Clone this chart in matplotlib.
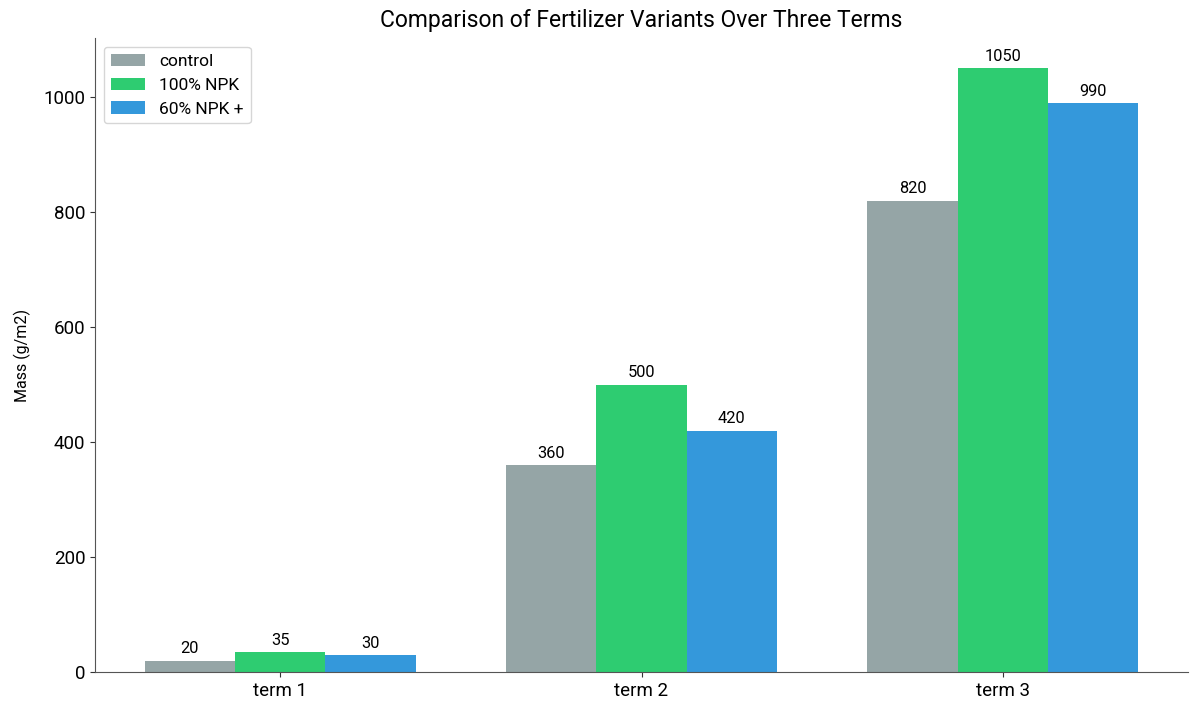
import matplotlib
matplotlib.use("Agg")
import matplotlib.pyplot as plt
import numpy as np

plt.rcParams['font.family'] = ['Roboto', 'DejaVu Sans']

terms = ["term 1", "term 2", "term 3"]
series_names = ["control", "100% NPK", "60% NPK +"]
control = [20, 360, 820]
npk100 = [35, 500, 1050]
npk60 = [30, 420, 990]
colors = ["#95a5a6", "#2ecc71", "#3498db"]

fig = plt.figure(figsize=(11.91, 7.05), dpi=100)
ax = fig.add_axes([0.0798, 0.0468, 0.9177, 0.8992])

x = np.arange(len(terms))
w = 0.25
for i, (vals, name, c) in enumerate(zip([control, npk100, npk60], series_names, colors)):
    bars = ax.bar(x + (i - 1) * w, vals, w, label=name, color=c)
    ax.bar_label(bars, padding=3, fontsize=11.8)

ax.set_xticks(x)
ax.set_xticklabels(terms)
ax.tick_params(axis='both', labelsize=13.5, colors='#333333', labelcolor='black')
ax.set_ylabel("Mass (g/m2)", fontsize=11.5, labelpad=9)
ax.set_title("Comparison of Fertilizer Variants Over Three Terms", fontsize=16.5, pad=8)
for s in ["top", "right"]:
    ax.spines[s].set_visible(False)
for s in ["left", "bottom"]:
    ax.spines[s].set_color('#555555')
ax.legend(loc="upper left", fontsize=12.5)

fig.savefig("out.png", dpi=100)
